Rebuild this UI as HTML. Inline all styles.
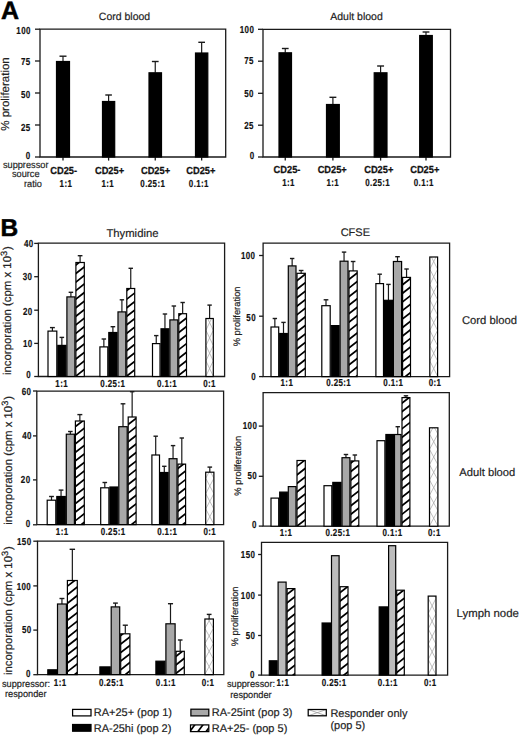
<!DOCTYPE html>
<html><head><meta charset="utf-8"><title>Figure</title>
<style>
html,body{margin:0;padding:0;background:#fff;}
body{width:520px;height:736px;overflow:hidden;}
svg{display:block;font-family:"Liberation Sans",sans-serif;text-rendering:geometricPrecision;}
</style></head>
<body>
<svg width="520" height="736" viewBox="0 0 520 736">
<rect width="520" height="736" fill="#fff"/>

<text x="0.90" y="18.80" font-size="25" text-anchor="start" font-weight="bold" fill="#000" stroke="#000" stroke-width="0.5">A</text>
<text x="124.50" y="19.60" font-size="10.5" text-anchor="middle" fill="#222" stroke="#222" stroke-width="0.18">Cord blood</text>
<text x="356.50" y="19.90" font-size="10.5" text-anchor="middle" fill="#222" stroke="#222" stroke-width="0.18">Adult blood</text>
<path d="M40.00,157.00 L40.00,29.20 L225.70,29.20 L225.70,157.00 Z" fill="none" stroke="#1a1a1a" stroke-width="1.3"/>
<line x1="35.00" y1="29.20" x2="40.00" y2="29.20" stroke="#1a1a1a" stroke-width="1.3"/>
<text x="0" y="0" transform="translate(30.79,34.40) scale(0.78,1)" font-size="10.2" text-anchor="end" font-weight="bold" fill="#111" stroke="#111" stroke-width="0.2" letter-spacing="0.5">100</text>
<line x1="35.00" y1="61.00" x2="40.00" y2="61.00" stroke="#1a1a1a" stroke-width="1.3"/>
<text x="0" y="0" transform="translate(30.59,65.40) scale(0.78,1)" font-size="10.2" text-anchor="end" font-weight="bold" fill="#111" stroke="#111" stroke-width="0.2" letter-spacing="0.5">75</text>
<line x1="35.00" y1="93.00" x2="40.00" y2="93.00" stroke="#1a1a1a" stroke-width="1.3"/>
<text x="0" y="0" transform="translate(30.59,97.90) scale(0.78,1)" font-size="10.2" text-anchor="end" font-weight="bold" fill="#111" stroke="#111" stroke-width="0.2" letter-spacing="0.5">50</text>
<line x1="35.00" y1="125.00" x2="40.00" y2="125.00" stroke="#1a1a1a" stroke-width="1.3"/>
<text x="0" y="0" transform="translate(30.59,130.50) scale(0.78,1)" font-size="10.2" text-anchor="end" font-weight="bold" fill="#111" stroke="#111" stroke-width="0.2" letter-spacing="0.5">25</text>
<line x1="35.00" y1="157.00" x2="40.00" y2="157.00" stroke="#1a1a1a" stroke-width="1.3"/>
<text x="0" y="0" transform="translate(30.59,159.10) scale(0.78,1)" font-size="10.2" text-anchor="end" font-weight="bold" fill="#111" stroke="#111" stroke-width="0.2" letter-spacing="0.5">0</text>
<line x1="63.00" y1="157.00" x2="63.00" y2="160.60" stroke="#1a1a1a" stroke-width="1.3"/>
<line x1="108.60" y1="157.00" x2="108.60" y2="160.60" stroke="#1a1a1a" stroke-width="1.3"/>
<line x1="155.25" y1="157.00" x2="155.25" y2="160.60" stroke="#1a1a1a" stroke-width="1.3"/>
<line x1="201.65" y1="157.00" x2="201.65" y2="160.60" stroke="#1a1a1a" stroke-width="1.3"/>
<line x1="63.00" y1="56.20" x2="63.00" y2="61.50" stroke="#1a1a1a" stroke-width="1.2"/>
<line x1="59.50" y1="56.20" x2="66.50" y2="56.20" stroke="#1a1a1a" stroke-width="1.4"/>
<rect x="56.50" y="61.50" width="13.00" height="95.50" fill="#000"/>
<rect x="56.50" y="61.50" width="13.00" height="95.50" fill="none" stroke="#000" stroke-width="1.2"/>
<line x1="108.60" y1="95.00" x2="108.60" y2="101.50" stroke="#1a1a1a" stroke-width="1.2"/>
<line x1="105.30" y1="95.00" x2="111.90" y2="95.00" stroke="#1a1a1a" stroke-width="1.4"/>
<rect x="102.50" y="101.50" width="12.20" height="55.50" fill="#000"/>
<rect x="102.50" y="101.50" width="12.20" height="55.50" fill="none" stroke="#000" stroke-width="1.2"/>
<line x1="155.25" y1="61.50" x2="155.25" y2="72.80" stroke="#1a1a1a" stroke-width="1.2"/>
<line x1="151.88" y1="61.50" x2="158.62" y2="61.50" stroke="#1a1a1a" stroke-width="1.4"/>
<rect x="149.00" y="72.80" width="12.50" height="84.20" fill="#000"/>
<rect x="149.00" y="72.80" width="12.50" height="84.20" fill="none" stroke="#000" stroke-width="1.2"/>
<line x1="201.65" y1="42.30" x2="201.65" y2="53.00" stroke="#1a1a1a" stroke-width="1.2"/>
<line x1="198.32" y1="42.30" x2="204.98" y2="42.30" stroke="#1a1a1a" stroke-width="1.4"/>
<rect x="195.50" y="53.00" width="12.30" height="104.00" fill="#000"/>
<rect x="195.50" y="53.00" width="12.30" height="104.00" fill="none" stroke="#000" stroke-width="1.2"/>
<text x="0" y="0" font-size="11.5" text-anchor="middle" fill="#222" stroke="#222" stroke-width="0.18" transform="translate(5.60,94.00) rotate(-90)" dominant-baseline="central">% proliferation</text>
<path d="M263.00,157.00 L263.00,29.30 L450.50,29.30 L450.50,157.00 Z" fill="none" stroke="#1a1a1a" stroke-width="1.3"/>
<line x1="258.00" y1="29.30" x2="263.00" y2="29.30" stroke="#1a1a1a" stroke-width="1.3"/>
<text x="0" y="0" transform="translate(254.19,32.60) scale(0.78,1)" font-size="10.2" text-anchor="end" font-weight="bold" fill="#111" stroke="#111" stroke-width="0.2" letter-spacing="0.5">100</text>
<line x1="258.00" y1="61.20" x2="263.00" y2="61.20" stroke="#1a1a1a" stroke-width="1.3"/>
<text x="0" y="0" transform="translate(253.89,63.70) scale(0.78,1)" font-size="10.2" text-anchor="end" font-weight="bold" fill="#111" stroke="#111" stroke-width="0.2" letter-spacing="0.5">75</text>
<line x1="258.00" y1="93.30" x2="263.00" y2="93.30" stroke="#1a1a1a" stroke-width="1.3"/>
<text x="0" y="0" transform="translate(253.89,96.50) scale(0.78,1)" font-size="10.2" text-anchor="end" font-weight="bold" fill="#111" stroke="#111" stroke-width="0.2" letter-spacing="0.5">50</text>
<line x1="258.00" y1="125.20" x2="263.00" y2="125.20" stroke="#1a1a1a" stroke-width="1.3"/>
<text x="0" y="0" transform="translate(253.89,128.80) scale(0.78,1)" font-size="10.2" text-anchor="end" font-weight="bold" fill="#111" stroke="#111" stroke-width="0.2" letter-spacing="0.5">25</text>
<line x1="258.00" y1="157.00" x2="263.00" y2="157.00" stroke="#1a1a1a" stroke-width="1.3"/>
<text x="0" y="0" transform="translate(254.49,159.10) scale(0.78,1)" font-size="10.2" text-anchor="end" font-weight="bold" fill="#111" stroke="#111" stroke-width="0.2" letter-spacing="0.5">0</text>
<line x1="285.25" y1="157.00" x2="285.25" y2="160.60" stroke="#1a1a1a" stroke-width="1.3"/>
<line x1="332.90" y1="157.00" x2="332.90" y2="160.60" stroke="#1a1a1a" stroke-width="1.3"/>
<line x1="380.60" y1="157.00" x2="380.60" y2="160.60" stroke="#1a1a1a" stroke-width="1.3"/>
<line x1="426.00" y1="157.00" x2="426.00" y2="160.60" stroke="#1a1a1a" stroke-width="1.3"/>
<line x1="285.25" y1="48.50" x2="285.25" y2="52.80" stroke="#1a1a1a" stroke-width="1.2"/>
<line x1="281.88" y1="48.50" x2="288.62" y2="48.50" stroke="#1a1a1a" stroke-width="1.4"/>
<rect x="279.00" y="52.80" width="12.50" height="104.20" fill="#000"/>
<rect x="279.00" y="52.80" width="12.50" height="104.20" fill="none" stroke="#000" stroke-width="1.2"/>
<line x1="332.90" y1="97.30" x2="332.90" y2="104.50" stroke="#1a1a1a" stroke-width="1.2"/>
<line x1="329.45" y1="97.30" x2="336.35" y2="97.30" stroke="#1a1a1a" stroke-width="1.4"/>
<rect x="326.50" y="104.50" width="12.80" height="52.50" fill="#000"/>
<rect x="326.50" y="104.50" width="12.80" height="52.50" fill="none" stroke="#000" stroke-width="1.2"/>
<line x1="380.60" y1="66.00" x2="380.60" y2="72.80" stroke="#1a1a1a" stroke-width="1.2"/>
<line x1="377.15" y1="66.00" x2="384.05" y2="66.00" stroke="#1a1a1a" stroke-width="1.4"/>
<rect x="374.20" y="72.80" width="12.80" height="84.20" fill="#000"/>
<rect x="374.20" y="72.80" width="12.80" height="84.20" fill="none" stroke="#000" stroke-width="1.2"/>
<line x1="426.00" y1="32.00" x2="426.00" y2="35.50" stroke="#1a1a1a" stroke-width="1.2"/>
<line x1="422.60" y1="32.00" x2="429.40" y2="32.00" stroke="#1a1a1a" stroke-width="1.4"/>
<rect x="419.70" y="35.50" width="12.60" height="121.50" fill="#000"/>
<rect x="419.70" y="35.50" width="12.60" height="121.50" fill="none" stroke="#000" stroke-width="1.2"/>
<text x="0" y="0" transform="translate(63.70,173.60) scale(0.91,1)" font-size="10.2" text-anchor="middle" font-weight="bold" fill="#111" stroke="#111" stroke-width="0.25">CD25-</text>
<text x="0" y="0" transform="translate(109.50,173.60) scale(0.91,1)" font-size="10.2" text-anchor="middle" font-weight="bold" fill="#111" stroke="#111" stroke-width="0.25">CD25+</text>
<text x="0" y="0" transform="translate(155.50,173.60) scale(0.91,1)" font-size="10.2" text-anchor="middle" font-weight="bold" fill="#111" stroke="#111" stroke-width="0.25">CD25+</text>
<text x="0" y="0" transform="translate(200.80,173.60) scale(0.91,1)" font-size="10.2" text-anchor="middle" font-weight="bold" fill="#111" stroke="#111" stroke-width="0.25">CD25+</text>
<text x="0" y="0" transform="translate(287.00,173.00) scale(0.91,1)" font-size="10.2" text-anchor="middle" font-weight="bold" fill="#111" stroke="#111" stroke-width="0.25">CD25-</text>
<text x="0" y="0" transform="translate(332.20,173.00) scale(0.91,1)" font-size="10.2" text-anchor="middle" font-weight="bold" fill="#111" stroke="#111" stroke-width="0.25">CD25+</text>
<text x="0" y="0" transform="translate(378.75,173.00) scale(0.91,1)" font-size="10.2" text-anchor="middle" font-weight="bold" fill="#111" stroke="#111" stroke-width="0.25">CD25+</text>
<text x="0" y="0" transform="translate(424.75,173.00) scale(0.91,1)" font-size="10.2" text-anchor="middle" font-weight="bold" fill="#111" stroke="#111" stroke-width="0.25">CD25+</text>
<text x="0" y="0" transform="translate(65.94,186.90) scale(0.78,1)" font-size="10.2" text-anchor="middle" font-weight="bold" fill="#111" stroke="#111" stroke-width="0.2" letter-spacing="0.5">1:1</text>
<text x="0" y="0" transform="translate(107.79,186.90) scale(0.78,1)" font-size="10.2" text-anchor="middle" font-weight="bold" fill="#111" stroke="#111" stroke-width="0.2" letter-spacing="0.5">1:1</text>
<text x="0" y="0" transform="translate(152.79,186.90) scale(0.78,1)" font-size="10.2" text-anchor="middle" font-weight="bold" fill="#111" stroke="#111" stroke-width="0.2" letter-spacing="0.5">0.25:1</text>
<text x="0" y="0" transform="translate(198.89,186.90) scale(0.78,1)" font-size="10.2" text-anchor="middle" font-weight="bold" fill="#111" stroke="#111" stroke-width="0.2" letter-spacing="0.5">0.1:1</text>
<text x="0" y="0" transform="translate(288.59,186.30) scale(0.78,1)" font-size="10.2" text-anchor="middle" font-weight="bold" fill="#111" stroke="#111" stroke-width="0.2" letter-spacing="0.5">1:1</text>
<text x="0" y="0" transform="translate(332.80,186.30) scale(0.78,1)" font-size="10.2" text-anchor="middle" font-weight="bold" fill="#111" stroke="#111" stroke-width="0.2" letter-spacing="0.5">1:1</text>
<text x="0" y="0" transform="translate(377.69,186.30) scale(0.78,1)" font-size="10.2" text-anchor="middle" font-weight="bold" fill="#111" stroke="#111" stroke-width="0.2" letter-spacing="0.5">0.25:1</text>
<text x="0" y="0" transform="translate(423.80,186.30) scale(0.78,1)" font-size="10.2" text-anchor="middle" font-weight="bold" fill="#111" stroke="#111" stroke-width="0.2" letter-spacing="0.5">0.1:1</text>
<text x="0" y="0" transform="translate(2.90,167.70) scale(0.94,1)" font-size="9.8" text-anchor="start" fill="#222" stroke="#222" stroke-width="0.18">suppressor</text>
<text x="0" y="0" transform="translate(11.90,176.60) scale(0.94,1)" font-size="9.8" text-anchor="start" fill="#222" stroke="#222" stroke-width="0.18">source</text>
<text x="0" y="0" transform="translate(24.00,187.40) scale(0.94,1)" font-size="9.8" text-anchor="start" fill="#222" stroke="#222" stroke-width="0.18">ratio</text>
<text x="0.40" y="235.90" font-size="24.5" text-anchor="start" font-weight="bold" fill="#000" stroke="#000" stroke-width="0.5">B</text>
<text x="132.45" y="236.50" font-size="11.3" text-anchor="middle" fill="#222" stroke="#222" stroke-width="0.18">Thymidine</text>
<text x="355.30" y="235.80" font-size="11" text-anchor="middle" fill="#222" stroke="#222" stroke-width="0.18">CFSE</text>
<path d="M38.40,376.50 L38.40,243.20 L224.60,243.20 L224.60,376.50 Z" fill="none" stroke="#1a1a1a" stroke-width="1.3"/>
<line x1="34.20" y1="243.40" x2="38.40" y2="243.40" stroke="#1a1a1a" stroke-width="1.3"/>
<text x="0" y="0" transform="translate(33.59,247.30) scale(0.78,1)" font-size="10.2" text-anchor="end" font-weight="bold" fill="#111" stroke="#111" stroke-width="0.2" letter-spacing="0.5">40</text>
<line x1="34.20" y1="276.70" x2="38.40" y2="276.70" stroke="#1a1a1a" stroke-width="1.3"/>
<text x="0" y="0" transform="translate(32.29,279.60) scale(0.78,1)" font-size="10.2" text-anchor="end" font-weight="bold" fill="#111" stroke="#111" stroke-width="0.2" letter-spacing="0.5">30</text>
<line x1="34.20" y1="310.20" x2="38.40" y2="310.20" stroke="#1a1a1a" stroke-width="1.3"/>
<text x="0" y="0" transform="translate(32.69,314.50) scale(0.78,1)" font-size="10.2" text-anchor="end" font-weight="bold" fill="#111" stroke="#111" stroke-width="0.2" letter-spacing="0.5">20</text>
<line x1="34.20" y1="343.40" x2="38.40" y2="343.40" stroke="#1a1a1a" stroke-width="1.3"/>
<text x="0" y="0" transform="translate(32.69,347.10) scale(0.78,1)" font-size="10.2" text-anchor="end" font-weight="bold" fill="#111" stroke="#111" stroke-width="0.2" letter-spacing="0.5">10</text>
<line x1="34.20" y1="376.50" x2="38.40" y2="376.50" stroke="#1a1a1a" stroke-width="1.3"/>
<text x="0" y="0" transform="translate(31.09,378.10) scale(0.78,1)" font-size="10.2" text-anchor="end" font-weight="bold" fill="#111" stroke="#111" stroke-width="0.2" letter-spacing="0.5">0</text>
<line x1="52.40" y1="327.60" x2="52.40" y2="331.10" stroke="#1a1a1a" stroke-width="1.2"/>
<line x1="49.95" y1="327.60" x2="54.85" y2="327.60" stroke="#1a1a1a" stroke-width="1.4"/>
<rect x="48.00" y="331.10" width="8.80" height="45.40" fill="#fff"/>
<rect x="48.00" y="331.10" width="8.80" height="45.40" fill="none" stroke="#000" stroke-width="1.2"/>
<line x1="61.85" y1="337.40" x2="61.85" y2="345.40" stroke="#1a1a1a" stroke-width="1.2"/>
<line x1="59.58" y1="337.40" x2="64.12" y2="337.40" stroke="#1a1a1a" stroke-width="1.4"/>
<rect x="57.80" y="345.40" width="8.10" height="31.10" fill="#000"/>
<rect x="57.80" y="345.40" width="8.10" height="31.10" fill="none" stroke="#000" stroke-width="1.2"/>
<line x1="70.90" y1="292.30" x2="70.90" y2="296.90" stroke="#1a1a1a" stroke-width="1.2"/>
<line x1="68.65" y1="292.30" x2="73.15" y2="292.30" stroke="#1a1a1a" stroke-width="1.4"/>
<rect x="66.90" y="296.90" width="8.00" height="79.60" fill="#a8a8a8"/>
<rect x="66.90" y="296.90" width="8.00" height="79.60" fill="none" stroke="#000" stroke-width="1.2"/>
<line x1="80.10" y1="255.70" x2="80.10" y2="262.50" stroke="#1a1a1a" stroke-width="1.2"/>
<line x1="77.75" y1="255.70" x2="82.45" y2="255.70" stroke="#1a1a1a" stroke-width="1.4"/>
<rect x="75.90" y="262.50" width="8.40" height="114.00" fill="#fff"/>
<clipPath id="c1"><rect x="75.90" y="262.50" width="8.40" height="114.00"/></clipPath>
<path d="M74.90,393.98 L85.30,385.86 M74.90,385.43 L85.30,377.31 M74.90,376.88 L85.30,368.76 M74.90,368.33 L85.30,360.21 M74.90,359.78 L85.30,351.66 M74.90,351.23 L85.30,343.11 M74.90,342.68 L85.30,334.56 M74.90,334.13 L85.30,326.01 M74.90,325.58 L85.30,317.46 M74.90,317.03 L85.30,308.91 M74.90,308.48 L85.30,300.36 M74.90,299.93 L85.30,291.81 M74.90,291.38 L85.30,283.26 M74.90,282.83 L85.30,274.71 M74.90,274.28 L85.30,266.16 M74.90,265.73 L85.30,257.61 M74.90,257.18 L85.30,249.06" stroke="#000" stroke-width="1.75" fill="none" clip-path="url(#c1)"/>
<rect x="75.90" y="262.50" width="8.40" height="114.00" fill="none" stroke="#000" stroke-width="1.2"/>
<line x1="103.85" y1="339.00" x2="103.85" y2="346.90" stroke="#1a1a1a" stroke-width="1.2"/>
<line x1="101.62" y1="339.00" x2="106.07" y2="339.00" stroke="#1a1a1a" stroke-width="1.4"/>
<rect x="99.90" y="346.90" width="7.90" height="29.60" fill="#fff"/>
<rect x="99.90" y="346.90" width="7.90" height="29.60" fill="none" stroke="#000" stroke-width="1.2"/>
<line x1="112.90" y1="326.70" x2="112.90" y2="332.50" stroke="#1a1a1a" stroke-width="1.2"/>
<line x1="110.60" y1="326.70" x2="115.20" y2="326.70" stroke="#1a1a1a" stroke-width="1.4"/>
<rect x="108.80" y="332.50" width="8.20" height="44.00" fill="#000"/>
<rect x="108.80" y="332.50" width="8.20" height="44.00" fill="none" stroke="#000" stroke-width="1.2"/>
<line x1="121.90" y1="299.80" x2="121.90" y2="311.90" stroke="#1a1a1a" stroke-width="1.2"/>
<line x1="119.70" y1="299.80" x2="124.10" y2="299.80" stroke="#1a1a1a" stroke-width="1.4"/>
<rect x="118.00" y="311.90" width="7.80" height="64.60" fill="#a8a8a8"/>
<rect x="118.00" y="311.90" width="7.80" height="64.60" fill="none" stroke="#000" stroke-width="1.2"/>
<line x1="130.75" y1="268.30" x2="130.75" y2="288.50" stroke="#1a1a1a" stroke-width="1.2"/>
<line x1="128.53" y1="268.30" x2="132.97" y2="268.30" stroke="#1a1a1a" stroke-width="1.4"/>
<rect x="126.80" y="288.50" width="7.90" height="88.00" fill="#fff"/>
<clipPath id="c2"><rect x="126.80" y="288.50" width="7.90" height="88.00"/></clipPath>
<path d="M125.80,393.98 L135.70,386.25 M125.80,385.43 L135.70,377.70 M125.80,376.88 L135.70,369.15 M125.80,368.33 L135.70,360.60 M125.80,359.78 L135.70,352.05 M125.80,351.23 L135.70,343.50 M125.80,342.68 L135.70,334.95 M125.80,334.13 L135.70,326.40 M125.80,325.58 L135.70,317.85 M125.80,317.03 L135.70,309.30 M125.80,308.48 L135.70,300.75 M125.80,299.93 L135.70,292.20 M125.80,291.38 L135.70,283.65 M125.80,282.83 L135.70,275.10" stroke="#000" stroke-width="1.75" fill="none" clip-path="url(#c2)"/>
<rect x="126.80" y="288.50" width="7.90" height="88.00" fill="none" stroke="#000" stroke-width="1.2"/>
<line x1="156.25" y1="335.60" x2="156.25" y2="343.60" stroke="#1a1a1a" stroke-width="1.2"/>
<line x1="154.05" y1="335.60" x2="158.45" y2="335.60" stroke="#1a1a1a" stroke-width="1.4"/>
<rect x="152.50" y="343.60" width="7.50" height="32.90" fill="#fff"/>
<rect x="152.50" y="343.60" width="7.50" height="32.90" fill="none" stroke="#000" stroke-width="1.2"/>
<line x1="164.95" y1="314.00" x2="164.95" y2="328.80" stroke="#1a1a1a" stroke-width="1.2"/>
<line x1="162.72" y1="314.00" x2="167.17" y2="314.00" stroke="#1a1a1a" stroke-width="1.4"/>
<rect x="161.00" y="328.80" width="7.90" height="47.70" fill="#000"/>
<rect x="161.00" y="328.80" width="7.90" height="47.70" fill="none" stroke="#000" stroke-width="1.2"/>
<line x1="173.85" y1="306.00" x2="173.85" y2="319.90" stroke="#1a1a1a" stroke-width="1.2"/>
<line x1="171.63" y1="306.00" x2="176.08" y2="306.00" stroke="#1a1a1a" stroke-width="1.4"/>
<rect x="169.90" y="319.90" width="7.90" height="56.60" fill="#a8a8a8"/>
<rect x="169.90" y="319.90" width="7.90" height="56.60" fill="none" stroke="#000" stroke-width="1.2"/>
<line x1="182.65" y1="302.50" x2="182.65" y2="313.70" stroke="#1a1a1a" stroke-width="1.2"/>
<line x1="180.45" y1="302.50" x2="184.85" y2="302.50" stroke="#1a1a1a" stroke-width="1.4"/>
<rect x="178.80" y="313.70" width="7.70" height="62.80" fill="#fff"/>
<clipPath id="c3"><rect x="178.80" y="313.70" width="7.70" height="62.80"/></clipPath>
<path d="M177.80,393.18 L187.50,385.61 M177.80,384.63 L187.50,377.06 M177.80,376.08 L187.50,368.51 M177.80,367.53 L187.50,359.96 M177.80,358.98 L187.50,351.41 M177.80,350.43 L187.50,342.86 M177.80,341.88 L187.50,334.31 M177.80,333.33 L187.50,325.76 M177.80,324.78 L187.50,317.21 M177.80,316.23 L187.50,308.66 M177.80,307.68 L187.50,300.11" stroke="#000" stroke-width="1.75" fill="none" clip-path="url(#c3)"/>
<rect x="178.80" y="313.70" width="7.70" height="62.80" fill="none" stroke="#000" stroke-width="1.2"/>
<line x1="209.60" y1="305.10" x2="209.60" y2="318.50" stroke="#1a1a1a" stroke-width="1.2"/>
<line x1="207.40" y1="305.10" x2="211.80" y2="305.10" stroke="#1a1a1a" stroke-width="1.4"/>
<rect x="205.90" y="318.50" width="7.40" height="58.00" fill="#fff"/>
<clipPath id="c4"><rect x="205.90" y="318.50" width="7.40" height="58.00"/></clipPath>
<path d="M205.90,376.15 L213.30,391.45 M205.90,391.45 L213.30,376.15 M205.90,360.85 L213.30,376.15 M205.90,376.15 L213.30,360.85 M205.90,345.55 L213.30,360.85 M205.90,360.85 L213.30,345.55 M205.90,330.25 L213.30,345.55 M205.90,345.55 L213.30,330.25 M205.90,314.95 L213.30,330.25 M205.90,330.25 L213.30,314.95 M205.90,299.65 L213.30,314.95 M205.90,314.95 L213.30,299.65" stroke="#a8a8a8" stroke-width="0.75" fill="none" clip-path="url(#c4)"/>
<rect x="205.90" y="318.50" width="7.40" height="58.00" fill="none" stroke="#000" stroke-width="1.2"/>
<text x="0" y="0" transform="translate(61.70,386.60) scale(0.78,1)" font-size="10.2" text-anchor="middle" font-weight="bold" fill="#111" stroke="#111" stroke-width="0.2" letter-spacing="0.5">1:1</text>
<text x="0" y="0" transform="translate(112.79,386.60) scale(0.78,1)" font-size="10.2" text-anchor="middle" font-weight="bold" fill="#111" stroke="#111" stroke-width="0.2" letter-spacing="0.5">0.25:1</text>
<text x="0" y="0" transform="translate(167.09,386.60) scale(0.78,1)" font-size="10.2" text-anchor="middle" font-weight="bold" fill="#111" stroke="#111" stroke-width="0.2" letter-spacing="0.5">0.1:1</text>
<text x="0" y="0" transform="translate(209.59,386.60) scale(0.78,1)" font-size="10.2" text-anchor="middle" font-weight="bold" fill="#111" stroke="#111" stroke-width="0.2" letter-spacing="0.5">0:1</text>
<text x="0" y="0" font-size="11.4" text-anchor="middle" fill="#222" stroke="#222" stroke-width="0.18" transform="translate(7.70,310.60) rotate(-90)" dominant-baseline="central">incorporation (cpm x 10<tspan dy="-3.9" font-size="9.2">3</tspan><tspan dy="3.9" dx="0.9">)</tspan></text>
<path d="M263.10,376.60 L263.10,243.20 L449.60,243.20 L449.60,376.60 Z" fill="none" stroke="#1a1a1a" stroke-width="1.3"/>
<line x1="259.10" y1="255.50" x2="263.10" y2="255.50" stroke="#1a1a1a" stroke-width="1.3"/>
<text x="0" y="0" transform="translate(255.39,258.60) scale(0.78,1)" font-size="10.2" text-anchor="end" font-weight="bold" fill="#111" stroke="#111" stroke-width="0.2" letter-spacing="0.5">100</text>
<line x1="259.10" y1="316.20" x2="263.10" y2="316.20" stroke="#1a1a1a" stroke-width="1.3"/>
<text x="0" y="0" transform="translate(255.99,320.70) scale(0.78,1)" font-size="10.2" text-anchor="end" font-weight="bold" fill="#111" stroke="#111" stroke-width="0.2" letter-spacing="0.5">50</text>
<line x1="259.10" y1="376.60" x2="263.10" y2="376.60" stroke="#1a1a1a" stroke-width="1.3"/>
<text x="0" y="0" transform="translate(255.99,379.50) scale(0.78,1)" font-size="10.2" text-anchor="end" font-weight="bold" fill="#111" stroke="#111" stroke-width="0.2" letter-spacing="0.5">0</text>
<line x1="274.85" y1="318.50" x2="274.85" y2="327.00" stroke="#1a1a1a" stroke-width="1.2"/>
<line x1="272.65" y1="318.50" x2="277.05" y2="318.50" stroke="#1a1a1a" stroke-width="1.4"/>
<rect x="271.00" y="327.00" width="7.70" height="49.60" fill="#fff"/>
<rect x="271.00" y="327.00" width="7.70" height="49.60" fill="none" stroke="#000" stroke-width="1.2"/>
<line x1="283.50" y1="322.40" x2="283.50" y2="333.50" stroke="#1a1a1a" stroke-width="1.2"/>
<line x1="281.30" y1="322.40" x2="285.70" y2="322.40" stroke="#1a1a1a" stroke-width="1.4"/>
<rect x="279.70" y="333.50" width="7.60" height="43.10" fill="#000"/>
<rect x="279.70" y="333.50" width="7.60" height="43.10" fill="none" stroke="#000" stroke-width="1.2"/>
<line x1="292.15" y1="258.50" x2="292.15" y2="265.90" stroke="#1a1a1a" stroke-width="1.2"/>
<line x1="289.95" y1="258.50" x2="294.35" y2="258.50" stroke="#1a1a1a" stroke-width="1.4"/>
<rect x="288.30" y="265.90" width="7.70" height="110.70" fill="#a8a8a8"/>
<rect x="288.30" y="265.90" width="7.70" height="110.70" fill="none" stroke="#000" stroke-width="1.2"/>
<line x1="301.15" y1="270.50" x2="301.15" y2="273.30" stroke="#1a1a1a" stroke-width="1.2"/>
<line x1="298.82" y1="270.50" x2="303.47" y2="270.50" stroke="#1a1a1a" stroke-width="1.4"/>
<rect x="297.00" y="273.30" width="8.30" height="103.30" fill="#fff"/>
<clipPath id="c5"><rect x="297.00" y="273.30" width="8.30" height="103.30"/></clipPath>
<path d="M296.00,401.03 L306.30,392.99 M296.00,392.48 L306.30,384.44 M296.00,383.93 L306.30,375.89 M296.00,375.38 L306.30,367.34 M296.00,366.83 L306.30,358.79 M296.00,358.28 L306.30,350.24 M296.00,349.73 L306.30,341.69 M296.00,341.18 L306.30,333.14 M296.00,332.63 L306.30,324.59 M296.00,324.08 L306.30,316.04 M296.00,315.53 L306.30,307.49 M296.00,306.98 L306.30,298.94 M296.00,298.43 L306.30,290.39 M296.00,289.88 L306.30,281.84 M296.00,281.33 L306.30,273.29 M296.00,272.78 L306.30,264.74" stroke="#000" stroke-width="1.75" fill="none" clip-path="url(#c5)"/>
<rect x="297.00" y="273.30" width="8.30" height="103.30" fill="none" stroke="#000" stroke-width="1.2"/>
<line x1="326.00" y1="299.80" x2="326.00" y2="305.70" stroke="#1a1a1a" stroke-width="1.2"/>
<line x1="323.65" y1="299.80" x2="328.35" y2="299.80" stroke="#1a1a1a" stroke-width="1.4"/>
<rect x="321.80" y="305.70" width="8.40" height="70.90" fill="#fff"/>
<rect x="321.80" y="305.70" width="8.40" height="70.90" fill="none" stroke="#000" stroke-width="1.2"/>
<rect x="331.20" y="325.60" width="7.90" height="51.00" fill="#000"/>
<rect x="331.20" y="325.60" width="7.90" height="51.00" fill="none" stroke="#000" stroke-width="1.2"/>
<line x1="344.05" y1="252.10" x2="344.05" y2="261.20" stroke="#1a1a1a" stroke-width="1.2"/>
<line x1="341.83" y1="252.10" x2="346.27" y2="252.10" stroke="#1a1a1a" stroke-width="1.4"/>
<rect x="340.10" y="261.20" width="7.90" height="115.40" fill="#a8a8a8"/>
<rect x="340.10" y="261.20" width="7.90" height="115.40" fill="none" stroke="#000" stroke-width="1.2"/>
<line x1="353.10" y1="261.50" x2="353.10" y2="270.90" stroke="#1a1a1a" stroke-width="1.2"/>
<line x1="350.80" y1="261.50" x2="355.40" y2="261.50" stroke="#1a1a1a" stroke-width="1.4"/>
<rect x="349.00" y="270.90" width="8.20" height="105.70" fill="#fff"/>
<clipPath id="c6"><rect x="349.00" y="270.90" width="8.20" height="105.70"/></clipPath>
<path d="M348.00,399.93 L358.20,391.96 M348.00,391.38 L358.20,383.41 M348.00,382.83 L358.20,374.86 M348.00,374.28 L358.20,366.31 M348.00,365.73 L358.20,357.76 M348.00,357.18 L358.20,349.21 M348.00,348.63 L358.20,340.66 M348.00,340.08 L358.20,332.11 M348.00,331.53 L358.20,323.56 M348.00,322.98 L358.20,315.01 M348.00,314.43 L358.20,306.46 M348.00,305.88 L358.20,297.91 M348.00,297.33 L358.20,289.36 M348.00,288.78 L358.20,280.81 M348.00,280.23 L358.20,272.26 M348.00,271.68 L358.20,263.71" stroke="#000" stroke-width="1.75" fill="none" clip-path="url(#c6)"/>
<rect x="349.00" y="270.90" width="8.20" height="105.70" fill="none" stroke="#000" stroke-width="1.2"/>
<line x1="379.70" y1="274.20" x2="379.70" y2="283.60" stroke="#1a1a1a" stroke-width="1.2"/>
<line x1="377.50" y1="274.20" x2="381.90" y2="274.20" stroke="#1a1a1a" stroke-width="1.4"/>
<rect x="375.90" y="283.60" width="7.60" height="93.00" fill="#fff"/>
<rect x="375.90" y="283.60" width="7.60" height="93.00" fill="none" stroke="#000" stroke-width="1.2"/>
<line x1="388.45" y1="284.40" x2="388.45" y2="300.30" stroke="#1a1a1a" stroke-width="1.2"/>
<line x1="386.23" y1="284.40" x2="390.67" y2="284.40" stroke="#1a1a1a" stroke-width="1.4"/>
<rect x="384.50" y="300.30" width="7.90" height="76.30" fill="#000"/>
<rect x="384.50" y="300.30" width="7.90" height="76.30" fill="none" stroke="#000" stroke-width="1.2"/>
<line x1="397.50" y1="256.70" x2="397.50" y2="261.50" stroke="#1a1a1a" stroke-width="1.2"/>
<line x1="395.20" y1="256.70" x2="399.80" y2="256.70" stroke="#1a1a1a" stroke-width="1.4"/>
<rect x="393.40" y="261.50" width="8.20" height="115.10" fill="#a8a8a8"/>
<rect x="393.40" y="261.50" width="8.20" height="115.10" fill="none" stroke="#000" stroke-width="1.2"/>
<line x1="406.55" y1="269.00" x2="406.55" y2="277.40" stroke="#1a1a1a" stroke-width="1.2"/>
<line x1="404.33" y1="269.00" x2="408.77" y2="269.00" stroke="#1a1a1a" stroke-width="1.4"/>
<rect x="402.60" y="277.40" width="7.90" height="99.20" fill="#fff"/>
<clipPath id="c7"><rect x="402.60" y="277.40" width="7.90" height="99.20"/></clipPath>
<path d="M401.60,396.63 L411.50,388.90 M401.60,388.08 L411.50,380.35 M401.60,379.53 L411.50,371.80 M401.60,370.98 L411.50,363.25 M401.60,362.43 L411.50,354.70 M401.60,353.88 L411.50,346.15 M401.60,345.33 L411.50,337.60 M401.60,336.78 L411.50,329.05 M401.60,328.23 L411.50,320.50 M401.60,319.68 L411.50,311.95 M401.60,311.13 L411.50,303.40 M401.60,302.58 L411.50,294.85 M401.60,294.03 L411.50,286.30 M401.60,285.48 L411.50,277.75 M401.60,276.93 L411.50,269.20" stroke="#000" stroke-width="1.75" fill="none" clip-path="url(#c7)"/>
<rect x="402.60" y="277.40" width="7.90" height="99.20" fill="none" stroke="#000" stroke-width="1.2"/>
<rect x="429.80" y="257.00" width="7.80" height="119.60" fill="#fff"/>
<clipPath id="c8"><rect x="429.80" y="257.00" width="7.80" height="119.60"/></clipPath>
<path d="M429.80,376.25 L437.60,391.55 M429.80,391.55 L437.60,376.25 M429.80,360.95 L437.60,376.25 M429.80,376.25 L437.60,360.95 M429.80,345.65 L437.60,360.95 M429.80,360.95 L437.60,345.65 M429.80,330.35 L437.60,345.65 M429.80,345.65 L437.60,330.35 M429.80,315.05 L437.60,330.35 M429.80,330.35 L437.60,315.05 M429.80,299.75 L437.60,315.05 M429.80,315.05 L437.60,299.75 M429.80,284.45 L437.60,299.75 M429.80,299.75 L437.60,284.45 M429.80,269.15 L437.60,284.45 M429.80,284.45 L437.60,269.15 M429.80,253.85 L437.60,269.15 M429.80,269.15 L437.60,253.85 M429.80,238.55 L437.60,253.85 M429.80,253.85 L437.60,238.55" stroke="#a8a8a8" stroke-width="0.75" fill="none" clip-path="url(#c8)"/>
<rect x="429.80" y="257.00" width="7.80" height="119.60" fill="none" stroke="#000" stroke-width="1.2"/>
<text x="0" y="0" transform="translate(286.89,386.30) scale(0.78,1)" font-size="10.2" text-anchor="middle" font-weight="bold" fill="#111" stroke="#111" stroke-width="0.2" letter-spacing="0.5">1:1</text>
<text x="0" y="0" transform="translate(338.69,386.30) scale(0.78,1)" font-size="10.2" text-anchor="middle" font-weight="bold" fill="#111" stroke="#111" stroke-width="0.2" letter-spacing="0.5">0.25:1</text>
<text x="0" y="0" transform="translate(393.39,386.30) scale(0.78,1)" font-size="10.2" text-anchor="middle" font-weight="bold" fill="#111" stroke="#111" stroke-width="0.2" letter-spacing="0.5">0.1:1</text>
<text x="0" y="0" transform="translate(435.09,386.30) scale(0.78,1)" font-size="10.2" text-anchor="middle" font-weight="bold" fill="#111" stroke="#111" stroke-width="0.2" letter-spacing="0.5">0:1</text>
<text x="0" y="0" font-size="9.4" text-anchor="middle" fill="#222" stroke="#222" stroke-width="0.18" transform="translate(236.30,316.40) rotate(-90)" dominant-baseline="central">% proliferation</text>
<text x="489.40" y="323.70" font-size="11.25" text-anchor="middle" fill="#222" stroke="#222" stroke-width="0.18">Cord blood</text>
<path d="M36.80,524.60 L36.80,391.10 L223.60,391.10 L223.60,524.60 Z" fill="none" stroke="#1a1a1a" stroke-width="1.3"/>
<line x1="33.00" y1="391.00" x2="36.80" y2="391.00" stroke="#1a1a1a" stroke-width="1.3"/>
<text x="0" y="0" transform="translate(31.29,394.50) scale(0.78,1)" font-size="10.2" text-anchor="end" font-weight="bold" fill="#111" stroke="#111" stroke-width="0.2" letter-spacing="0.5">60</text>
<line x1="33.00" y1="435.90" x2="36.80" y2="435.90" stroke="#1a1a1a" stroke-width="1.3"/>
<text x="0" y="0" transform="translate(31.79,438.50) scale(0.78,1)" font-size="10.2" text-anchor="end" font-weight="bold" fill="#111" stroke="#111" stroke-width="0.2" letter-spacing="0.5">40</text>
<line x1="33.00" y1="479.90" x2="36.80" y2="479.90" stroke="#1a1a1a" stroke-width="1.3"/>
<text x="0" y="0" transform="translate(30.49,483.20) scale(0.78,1)" font-size="10.2" text-anchor="end" font-weight="bold" fill="#111" stroke="#111" stroke-width="0.2" letter-spacing="0.5">20</text>
<line x1="33.00" y1="524.80" x2="36.80" y2="524.80" stroke="#1a1a1a" stroke-width="1.3"/>
<text x="0" y="0" transform="translate(30.49,526.70) scale(0.78,1)" font-size="10.2" text-anchor="end" font-weight="bold" fill="#111" stroke="#111" stroke-width="0.2" letter-spacing="0.5">0</text>
<line x1="51.50" y1="496.50" x2="51.50" y2="500.20" stroke="#1a1a1a" stroke-width="1.2"/>
<line x1="49.10" y1="496.50" x2="53.90" y2="496.50" stroke="#1a1a1a" stroke-width="1.4"/>
<rect x="47.20" y="500.20" width="8.60" height="24.40" fill="#fff"/>
<rect x="47.20" y="500.20" width="8.60" height="24.40" fill="none" stroke="#000" stroke-width="1.2"/>
<line x1="61.05" y1="490.10" x2="61.05" y2="496.50" stroke="#1a1a1a" stroke-width="1.2"/>
<line x1="58.67" y1="490.10" x2="63.42" y2="490.10" stroke="#1a1a1a" stroke-width="1.4"/>
<rect x="56.80" y="496.50" width="8.50" height="28.10" fill="#000"/>
<rect x="56.80" y="496.50" width="8.50" height="28.10" fill="none" stroke="#000" stroke-width="1.2"/>
<line x1="70.35" y1="431.50" x2="70.35" y2="434.20" stroke="#1a1a1a" stroke-width="1.2"/>
<line x1="68.07" y1="431.50" x2="72.62" y2="431.50" stroke="#1a1a1a" stroke-width="1.4"/>
<rect x="66.30" y="434.20" width="8.10" height="90.40" fill="#a8a8a8"/>
<rect x="66.30" y="434.20" width="8.10" height="90.40" fill="none" stroke="#000" stroke-width="1.2"/>
<line x1="79.85" y1="414.60" x2="79.85" y2="421.00" stroke="#1a1a1a" stroke-width="1.2"/>
<line x1="77.38" y1="414.60" x2="82.32" y2="414.60" stroke="#1a1a1a" stroke-width="1.4"/>
<rect x="75.40" y="421.00" width="8.90" height="103.60" fill="#fff"/>
<clipPath id="c9"><rect x="75.40" y="421.00" width="8.90" height="103.60"/></clipPath>
<path d="M74.40,547.13 L85.30,538.62 M74.40,538.58 L85.30,530.07 M74.40,530.03 L85.30,521.52 M74.40,521.48 L85.30,512.97 M74.40,512.93 L85.30,504.42 M74.40,504.38 L85.30,495.87 M74.40,495.83 L85.30,487.32 M74.40,487.28 L85.30,478.77 M74.40,478.73 L85.30,470.22 M74.40,470.18 L85.30,461.67 M74.40,461.63 L85.30,453.12 M74.40,453.08 L85.30,444.57 M74.40,444.53 L85.30,436.02 M74.40,435.98 L85.30,427.47 M74.40,427.43 L85.30,418.92 M74.40,418.88 L85.30,410.37" stroke="#000" stroke-width="1.75" fill="none" clip-path="url(#c9)"/>
<rect x="75.40" y="421.00" width="8.90" height="103.60" fill="none" stroke="#000" stroke-width="1.2"/>
<line x1="104.80" y1="482.50" x2="104.80" y2="487.80" stroke="#1a1a1a" stroke-width="1.2"/>
<line x1="102.50" y1="482.50" x2="107.10" y2="482.50" stroke="#1a1a1a" stroke-width="1.4"/>
<rect x="100.70" y="487.80" width="8.20" height="36.80" fill="#fff"/>
<rect x="100.70" y="487.80" width="8.20" height="36.80" fill="none" stroke="#000" stroke-width="1.2"/>
<rect x="109.90" y="487.00" width="7.90" height="37.60" fill="#000"/>
<rect x="109.90" y="487.00" width="7.90" height="37.60" fill="none" stroke="#000" stroke-width="1.2"/>
<line x1="123.00" y1="403.80" x2="123.00" y2="426.70" stroke="#1a1a1a" stroke-width="1.2"/>
<line x1="120.65" y1="403.80" x2="125.35" y2="403.80" stroke="#1a1a1a" stroke-width="1.4"/>
<rect x="118.80" y="426.70" width="8.40" height="97.90" fill="#a8a8a8"/>
<rect x="118.80" y="426.70" width="8.40" height="97.90" fill="none" stroke="#000" stroke-width="1.2"/>
<line x1="132.15" y1="391.70" x2="132.15" y2="417.00" stroke="#1a1a1a" stroke-width="1.2"/>
<line x1="129.92" y1="391.70" x2="134.37" y2="391.70" stroke="#1a1a1a" stroke-width="1.4"/>
<rect x="128.20" y="417.00" width="7.90" height="107.60" fill="#fff"/>
<clipPath id="c10"><rect x="128.20" y="417.00" width="7.90" height="107.60"/></clipPath>
<path d="M127.20,545.03 L137.10,537.30 M127.20,536.48 L137.10,528.75 M127.20,527.93 L137.10,520.20 M127.20,519.38 L137.10,511.65 M127.20,510.83 L137.10,503.10 M127.20,502.28 L137.10,494.55 M127.20,493.73 L137.10,486.00 M127.20,485.18 L137.10,477.45 M127.20,476.63 L137.10,468.90 M127.20,468.08 L137.10,460.35 M127.20,459.53 L137.10,451.80 M127.20,450.98 L137.10,443.25 M127.20,442.43 L137.10,434.70 M127.20,433.88 L137.10,426.15 M127.20,425.33 L137.10,417.60 M127.20,416.78 L137.10,409.05" stroke="#000" stroke-width="1.75" fill="none" clip-path="url(#c10)"/>
<rect x="128.20" y="417.00" width="7.90" height="107.60" fill="none" stroke="#000" stroke-width="1.2"/>
<line x1="155.70" y1="436.20" x2="155.70" y2="455.00" stroke="#1a1a1a" stroke-width="1.2"/>
<line x1="153.50" y1="436.20" x2="157.90" y2="436.20" stroke="#1a1a1a" stroke-width="1.4"/>
<rect x="151.90" y="455.00" width="7.60" height="69.60" fill="#fff"/>
<rect x="151.90" y="455.00" width="7.60" height="69.60" fill="none" stroke="#000" stroke-width="1.2"/>
<line x1="164.30" y1="466.30" x2="164.30" y2="472.50" stroke="#1a1a1a" stroke-width="1.2"/>
<line x1="162.10" y1="466.30" x2="166.50" y2="466.30" stroke="#1a1a1a" stroke-width="1.4"/>
<rect x="160.50" y="472.50" width="7.60" height="52.10" fill="#000"/>
<rect x="160.50" y="472.50" width="7.60" height="52.10" fill="none" stroke="#000" stroke-width="1.2"/>
<line x1="173.05" y1="445.60" x2="173.05" y2="458.70" stroke="#1a1a1a" stroke-width="1.2"/>
<line x1="170.83" y1="445.60" x2="175.28" y2="445.60" stroke="#1a1a1a" stroke-width="1.4"/>
<rect x="169.10" y="458.70" width="7.90" height="65.90" fill="#a8a8a8"/>
<rect x="169.10" y="458.70" width="7.90" height="65.90" fill="none" stroke="#000" stroke-width="1.2"/>
<line x1="181.80" y1="438.00" x2="181.80" y2="464.10" stroke="#1a1a1a" stroke-width="1.2"/>
<line x1="179.60" y1="438.00" x2="184.00" y2="438.00" stroke="#1a1a1a" stroke-width="1.4"/>
<rect x="178.00" y="464.10" width="7.60" height="60.50" fill="#fff"/>
<clipPath id="c11"><rect x="178.00" y="464.10" width="7.60" height="60.50"/></clipPath>
<path d="M177.00,546.13 L186.60,538.63 M177.00,537.58 L186.60,530.08 M177.00,529.03 L186.60,521.53 M177.00,520.48 L186.60,512.98 M177.00,511.93 L186.60,504.43 M177.00,503.38 L186.60,495.88 M177.00,494.83 L186.60,487.33 M177.00,486.28 L186.60,478.78 M177.00,477.73 L186.60,470.23 M177.00,469.18 L186.60,461.68 M177.00,460.63 L186.60,453.13" stroke="#000" stroke-width="1.75" fill="none" clip-path="url(#c11)"/>
<rect x="178.00" y="464.10" width="7.60" height="60.50" fill="none" stroke="#000" stroke-width="1.2"/>
<line x1="209.80" y1="467.10" x2="209.80" y2="472.20" stroke="#1a1a1a" stroke-width="1.2"/>
<line x1="207.50" y1="467.10" x2="212.10" y2="467.10" stroke="#1a1a1a" stroke-width="1.4"/>
<rect x="205.70" y="472.20" width="8.20" height="52.40" fill="#fff"/>
<clipPath id="c12"><rect x="205.70" y="472.20" width="8.20" height="52.40"/></clipPath>
<path d="M205.70,524.25 L213.90,539.55 M205.70,539.55 L213.90,524.25 M205.70,508.95 L213.90,524.25 M205.70,524.25 L213.90,508.95 M205.70,493.65 L213.90,508.95 M205.70,508.95 L213.90,493.65 M205.70,478.35 L213.90,493.65 M205.70,493.65 L213.90,478.35 M205.70,463.05 L213.90,478.35 M205.70,478.35 L213.90,463.05" stroke="#a8a8a8" stroke-width="0.75" fill="none" clip-path="url(#c12)"/>
<rect x="205.70" y="472.20" width="8.20" height="52.40" fill="none" stroke="#000" stroke-width="1.2"/>
<text x="0" y="0" transform="translate(62.20,534.80) scale(0.78,1)" font-size="10.2" text-anchor="middle" font-weight="bold" fill="#111" stroke="#111" stroke-width="0.2" letter-spacing="0.5">1:1</text>
<text x="0" y="0" transform="translate(113.09,534.80) scale(0.78,1)" font-size="10.2" text-anchor="middle" font-weight="bold" fill="#111" stroke="#111" stroke-width="0.2" letter-spacing="0.5">0.25:1</text>
<text x="0" y="0" transform="translate(167.19,534.80) scale(0.78,1)" font-size="10.2" text-anchor="middle" font-weight="bold" fill="#111" stroke="#111" stroke-width="0.2" letter-spacing="0.5">0.1:1</text>
<text x="0" y="0" transform="translate(209.79,534.80) scale(0.78,1)" font-size="10.2" text-anchor="middle" font-weight="bold" fill="#111" stroke="#111" stroke-width="0.2" letter-spacing="0.5">0:1</text>
<text x="0" y="0" font-size="11.4" text-anchor="middle" fill="#222" stroke="#222" stroke-width="0.18" transform="translate(8.50,460.40) rotate(-90)" dominant-baseline="central">incorporation (cpm x 10<tspan dy="-3.9" font-size="9.2">3</tspan><tspan dy="3.9" dx="0.9">)</tspan></text>
<path d="M263.10,526.20 L263.10,392.60 L449.30,392.60 L449.30,526.20 Z" fill="none" stroke="#1a1a1a" stroke-width="1.3"/>
<line x1="258.80" y1="426.10" x2="263.10" y2="426.10" stroke="#1a1a1a" stroke-width="1.3"/>
<text x="0" y="0" transform="translate(257.19,428.90) scale(0.78,1)" font-size="10.2" text-anchor="end" font-weight="bold" fill="#111" stroke="#111" stroke-width="0.2" letter-spacing="0.5">100</text>
<line x1="258.80" y1="476.30" x2="263.10" y2="476.30" stroke="#1a1a1a" stroke-width="1.3"/>
<text x="0" y="0" transform="translate(257.09,479.30) scale(0.78,1)" font-size="10.2" text-anchor="end" font-weight="bold" fill="#111" stroke="#111" stroke-width="0.2" letter-spacing="0.5">50</text>
<line x1="258.80" y1="526.10" x2="263.10" y2="526.10" stroke="#1a1a1a" stroke-width="1.3"/>
<text x="0" y="0" transform="translate(256.69,528.00) scale(0.78,1)" font-size="10.2" text-anchor="end" font-weight="bold" fill="#111" stroke="#111" stroke-width="0.2" letter-spacing="0.5">0</text>
<rect x="271.00" y="498.10" width="7.70" height="28.10" fill="#fff"/>
<rect x="271.00" y="498.10" width="7.70" height="28.10" fill="none" stroke="#000" stroke-width="1.2"/>
<rect x="279.70" y="492.10" width="7.60" height="34.10" fill="#000"/>
<rect x="279.70" y="492.10" width="7.60" height="34.10" fill="none" stroke="#000" stroke-width="1.2"/>
<rect x="288.30" y="486.60" width="7.70" height="39.60" fill="#a8a8a8"/>
<rect x="288.30" y="486.60" width="7.70" height="39.60" fill="none" stroke="#000" stroke-width="1.2"/>
<rect x="297.00" y="460.50" width="8.30" height="65.70" fill="#fff"/>
<clipPath id="c13"><rect x="297.00" y="460.50" width="8.30" height="65.70"/></clipPath>
<path d="M296.00,543.98 L306.30,535.94 M296.00,535.43 L306.30,527.39 M296.00,526.88 L306.30,518.84 M296.00,518.33 L306.30,510.29 M296.00,509.78 L306.30,501.74 M296.00,501.23 L306.30,493.19 M296.00,492.68 L306.30,484.64 M296.00,484.13 L306.30,476.09 M296.00,475.58 L306.30,467.54 M296.00,467.03 L306.30,458.99 M296.00,458.48 L306.30,450.44" stroke="#000" stroke-width="1.75" fill="none" clip-path="url(#c13)"/>
<rect x="297.00" y="460.50" width="8.30" height="65.70" fill="none" stroke="#000" stroke-width="1.2"/>
<rect x="324.00" y="485.70" width="7.80" height="40.50" fill="#fff"/>
<rect x="324.00" y="485.70" width="7.80" height="40.50" fill="none" stroke="#000" stroke-width="1.2"/>
<rect x="332.80" y="482.40" width="8.20" height="43.80" fill="#000"/>
<rect x="332.80" y="482.40" width="8.20" height="43.80" fill="none" stroke="#000" stroke-width="1.2"/>
<line x1="345.95" y1="454.50" x2="345.95" y2="457.70" stroke="#1a1a1a" stroke-width="1.2"/>
<line x1="343.73" y1="454.50" x2="348.17" y2="454.50" stroke="#1a1a1a" stroke-width="1.4"/>
<rect x="342.00" y="457.70" width="7.90" height="68.50" fill="#a8a8a8"/>
<rect x="342.00" y="457.70" width="7.90" height="68.50" fill="none" stroke="#000" stroke-width="1.2"/>
<line x1="354.85" y1="455.00" x2="354.85" y2="460.90" stroke="#1a1a1a" stroke-width="1.2"/>
<line x1="352.62" y1="455.00" x2="357.08" y2="455.00" stroke="#1a1a1a" stroke-width="1.4"/>
<rect x="350.90" y="460.90" width="7.90" height="65.30" fill="#fff"/>
<clipPath id="c14"><rect x="350.90" y="460.90" width="7.90" height="65.30"/></clipPath>
<path d="M349.90,549.23 L359.80,541.50 M349.90,540.68 L359.80,532.95 M349.90,532.13 L359.80,524.40 M349.90,523.58 L359.80,515.85 M349.90,515.03 L359.80,507.30 M349.90,506.48 L359.80,498.75 M349.90,497.93 L359.80,490.20 M349.90,489.38 L359.80,481.65 M349.90,480.83 L359.80,473.10 M349.90,472.28 L359.80,464.55 M349.90,463.73 L359.80,456.00 M349.90,455.18 L359.80,447.45" stroke="#000" stroke-width="1.75" fill="none" clip-path="url(#c14)"/>
<rect x="350.90" y="460.90" width="7.90" height="65.30" fill="none" stroke="#000" stroke-width="1.2"/>
<rect x="377.00" y="440.70" width="7.90" height="85.50" fill="#fff"/>
<rect x="377.00" y="440.70" width="7.90" height="85.50" fill="none" stroke="#000" stroke-width="1.2"/>
<rect x="385.90" y="434.50" width="7.60" height="91.70" fill="#000"/>
<rect x="385.90" y="434.50" width="7.60" height="91.70" fill="none" stroke="#000" stroke-width="1.2"/>
<line x1="397.75" y1="426.70" x2="397.75" y2="434.50" stroke="#1a1a1a" stroke-width="1.2"/>
<line x1="395.55" y1="426.70" x2="399.95" y2="426.70" stroke="#1a1a1a" stroke-width="1.4"/>
<rect x="394.50" y="434.50" width="6.50" height="91.70" fill="#a8a8a8"/>
<rect x="394.50" y="434.50" width="6.50" height="91.70" fill="none" stroke="#000" stroke-width="1.2"/>
<line x1="405.95" y1="395.80" x2="405.95" y2="397.60" stroke="#1a1a1a" stroke-width="1.2"/>
<line x1="403.73" y1="395.80" x2="408.17" y2="395.80" stroke="#1a1a1a" stroke-width="1.4"/>
<rect x="402.00" y="397.60" width="7.90" height="128.60" fill="#fff"/>
<clipPath id="c15"><rect x="402.00" y="397.60" width="7.90" height="128.60"/></clipPath>
<path d="M401.00,549.23 L410.90,541.50 M401.00,540.68 L410.90,532.95 M401.00,532.13 L410.90,524.40 M401.00,523.58 L410.90,515.85 M401.00,515.03 L410.90,507.30 M401.00,506.48 L410.90,498.75 M401.00,497.93 L410.90,490.20 M401.00,489.38 L410.90,481.65 M401.00,480.83 L410.90,473.10 M401.00,472.28 L410.90,464.55 M401.00,463.73 L410.90,456.00 M401.00,455.18 L410.90,447.45 M401.00,446.63 L410.90,438.90 M401.00,438.08 L410.90,430.35 M401.00,429.53 L410.90,421.80 M401.00,420.98 L410.90,413.25 M401.00,412.43 L410.90,404.70 M401.00,403.88 L410.90,396.15 M401.00,395.33 L410.90,387.60" stroke="#000" stroke-width="1.75" fill="none" clip-path="url(#c15)"/>
<rect x="402.00" y="397.60" width="7.90" height="128.60" fill="none" stroke="#000" stroke-width="1.2"/>
<rect x="429.50" y="427.80" width="8.40" height="98.40" fill="#fff"/>
<clipPath id="c16"><rect x="429.50" y="427.80" width="8.40" height="98.40"/></clipPath>
<path d="M429.50,525.85 L437.90,541.15 M429.50,541.15 L437.90,525.85 M429.50,510.55 L437.90,525.85 M429.50,525.85 L437.90,510.55 M429.50,495.25 L437.90,510.55 M429.50,510.55 L437.90,495.25 M429.50,479.95 L437.90,495.25 M429.50,495.25 L437.90,479.95 M429.50,464.65 L437.90,479.95 M429.50,479.95 L437.90,464.65 M429.50,449.35 L437.90,464.65 M429.50,464.65 L437.90,449.35 M429.50,434.05 L437.90,449.35 M429.50,449.35 L437.90,434.05 M429.50,418.75 L437.90,434.05 M429.50,434.05 L437.90,418.75" stroke="#a8a8a8" stroke-width="0.75" fill="none" clip-path="url(#c16)"/>
<rect x="429.50" y="427.80" width="8.40" height="98.40" fill="none" stroke="#000" stroke-width="1.2"/>
<text x="0" y="0" transform="translate(286.00,536.00) scale(0.78,1)" font-size="10.2" text-anchor="middle" font-weight="bold" fill="#111" stroke="#111" stroke-width="0.2" letter-spacing="0.5">1:1</text>
<text x="0" y="0" transform="translate(337.89,536.00) scale(0.78,1)" font-size="10.2" text-anchor="middle" font-weight="bold" fill="#111" stroke="#111" stroke-width="0.2" letter-spacing="0.5">0.25:1</text>
<text x="0" y="0" transform="translate(392.59,536.00) scale(0.78,1)" font-size="10.2" text-anchor="middle" font-weight="bold" fill="#111" stroke="#111" stroke-width="0.2" letter-spacing="0.5">0.1:1</text>
<text x="0" y="0" transform="translate(434.39,536.00) scale(0.78,1)" font-size="10.2" text-anchor="middle" font-weight="bold" fill="#111" stroke="#111" stroke-width="0.2" letter-spacing="0.5">0:1</text>
<text x="0" y="0" font-size="9.4" text-anchor="middle" fill="#222" stroke="#222" stroke-width="0.18" transform="translate(237.20,465.70) rotate(-90)" dominant-baseline="central">% proliferation</text>
<text x="487.30" y="476.30" font-size="11.2" text-anchor="middle" fill="#222" stroke="#222" stroke-width="0.18">Adult blood</text>
<path d="M37.50,674.60 L37.50,541.20 L223.80,541.20 L223.80,674.60 Z" fill="none" stroke="#1a1a1a" stroke-width="1.3"/>
<line x1="33.30" y1="541.20" x2="37.50" y2="541.20" stroke="#1a1a1a" stroke-width="1.3"/>
<text x="0" y="0" transform="translate(31.49,544.60) scale(0.78,1)" font-size="10.2" text-anchor="end" font-weight="bold" fill="#111" stroke="#111" stroke-width="0.2" letter-spacing="0.5">150</text>
<line x1="33.30" y1="585.90" x2="37.50" y2="585.90" stroke="#1a1a1a" stroke-width="1.3"/>
<text x="0" y="0" transform="translate(31.09,589.80) scale(0.78,1)" font-size="10.2" text-anchor="end" font-weight="bold" fill="#111" stroke="#111" stroke-width="0.2" letter-spacing="0.5">100</text>
<line x1="33.30" y1="630.10" x2="37.50" y2="630.10" stroke="#1a1a1a" stroke-width="1.3"/>
<text x="0" y="0" transform="translate(31.59,632.80) scale(0.78,1)" font-size="10.2" text-anchor="end" font-weight="bold" fill="#111" stroke="#111" stroke-width="0.2" letter-spacing="0.5">50</text>
<line x1="33.30" y1="674.70" x2="37.50" y2="674.70" stroke="#1a1a1a" stroke-width="1.3"/>
<text x="0" y="0" transform="translate(30.69,677.20) scale(0.78,1)" font-size="10.2" text-anchor="end" font-weight="bold" fill="#111" stroke="#111" stroke-width="0.2" letter-spacing="0.5">0</text>
<rect x="47.80" y="669.80" width="8.70" height="4.80" fill="#000"/>
<rect x="47.80" y="669.80" width="8.70" height="4.80" fill="none" stroke="#000" stroke-width="1.2"/>
<line x1="61.95" y1="598.50" x2="61.95" y2="604.00" stroke="#1a1a1a" stroke-width="1.2"/>
<line x1="59.48" y1="598.50" x2="64.43" y2="598.50" stroke="#1a1a1a" stroke-width="1.4"/>
<rect x="57.50" y="604.00" width="8.90" height="70.60" fill="#a8a8a8"/>
<rect x="57.50" y="604.00" width="8.90" height="70.60" fill="none" stroke="#000" stroke-width="1.2"/>
<line x1="72.35" y1="549.30" x2="72.35" y2="580.50" stroke="#1a1a1a" stroke-width="1.2"/>
<line x1="69.62" y1="549.30" x2="75.07" y2="549.30" stroke="#1a1a1a" stroke-width="1.4"/>
<rect x="67.40" y="580.50" width="9.90" height="94.10" fill="#fff"/>
<clipPath id="c17"><rect x="67.40" y="580.50" width="9.90" height="94.10"/></clipPath>
<path d="M66.40,698.13 L78.30,688.84 M66.40,689.58 L78.30,680.29 M66.40,681.03 L78.30,671.74 M66.40,672.48 L78.30,663.19 M66.40,663.93 L78.30,654.64 M66.40,655.38 L78.30,646.09 M66.40,646.83 L78.30,637.54 M66.40,638.28 L78.30,628.99 M66.40,629.73 L78.30,620.44 M66.40,621.18 L78.30,611.89 M66.40,612.63 L78.30,603.34 M66.40,604.08 L78.30,594.79 M66.40,595.53 L78.30,586.24 M66.40,586.98 L78.30,577.69 M66.40,578.43 L78.30,569.14" stroke="#000" stroke-width="1.75" fill="none" clip-path="url(#c17)"/>
<rect x="67.40" y="580.50" width="9.90" height="94.10" fill="none" stroke="#000" stroke-width="1.2"/>
<rect x="99.90" y="666.90" width="10.30" height="7.70" fill="#000"/>
<rect x="99.90" y="666.90" width="10.30" height="7.70" fill="none" stroke="#000" stroke-width="1.2"/>
<line x1="115.45" y1="603.10" x2="115.45" y2="606.90" stroke="#1a1a1a" stroke-width="1.2"/>
<line x1="113.08" y1="603.10" x2="117.83" y2="603.10" stroke="#1a1a1a" stroke-width="1.4"/>
<rect x="111.20" y="606.90" width="8.50" height="67.70" fill="#a8a8a8"/>
<rect x="111.20" y="606.90" width="8.50" height="67.70" fill="none" stroke="#000" stroke-width="1.2"/>
<line x1="125.30" y1="625.20" x2="125.30" y2="633.80" stroke="#1a1a1a" stroke-width="1.2"/>
<line x1="122.75" y1="625.20" x2="127.85" y2="625.20" stroke="#1a1a1a" stroke-width="1.4"/>
<rect x="120.70" y="633.80" width="9.20" height="40.80" fill="#fff"/>
<clipPath id="c18"><rect x="120.70" y="633.80" width="9.20" height="40.80"/></clipPath>
<path d="M119.70,696.13 L130.90,687.38 M119.70,687.58 L130.90,678.83 M119.70,679.03 L130.90,670.28 M119.70,670.48 L130.90,661.73 M119.70,661.93 L130.90,653.18 M119.70,653.38 L130.90,644.63 M119.70,644.83 L130.90,636.08 M119.70,636.28 L130.90,627.53 M119.70,627.73 L130.90,618.98" stroke="#000" stroke-width="1.75" fill="none" clip-path="url(#c18)"/>
<rect x="120.70" y="633.80" width="9.20" height="40.80" fill="none" stroke="#000" stroke-width="1.2"/>
<rect x="155.90" y="661.20" width="9.00" height="13.40" fill="#000"/>
<rect x="155.90" y="661.20" width="9.00" height="13.40" fill="none" stroke="#000" stroke-width="1.2"/>
<line x1="170.50" y1="603.70" x2="170.50" y2="623.80" stroke="#1a1a1a" stroke-width="1.2"/>
<line x1="167.95" y1="603.70" x2="173.05" y2="603.70" stroke="#1a1a1a" stroke-width="1.4"/>
<rect x="165.90" y="623.80" width="9.20" height="50.80" fill="#a8a8a8"/>
<rect x="165.90" y="623.80" width="9.20" height="50.80" fill="none" stroke="#000" stroke-width="1.2"/>
<line x1="180.20" y1="640.00" x2="180.20" y2="651.30" stroke="#1a1a1a" stroke-width="1.2"/>
<line x1="177.90" y1="640.00" x2="182.50" y2="640.00" stroke="#1a1a1a" stroke-width="1.4"/>
<rect x="176.10" y="651.30" width="8.20" height="23.30" fill="#fff"/>
<clipPath id="c19"><rect x="176.10" y="651.30" width="8.20" height="23.30"/></clipPath>
<path d="M175.10,691.18 L185.30,683.21 M175.10,682.63 L185.30,674.66 M175.10,674.08 L185.30,666.11 M175.10,665.53 L185.30,657.56 M175.10,656.98 L185.30,649.01 M175.10,648.43 L185.30,640.46" stroke="#000" stroke-width="1.75" fill="none" clip-path="url(#c19)"/>
<rect x="176.10" y="651.30" width="8.20" height="23.30" fill="none" stroke="#000" stroke-width="1.2"/>
<line x1="209.15" y1="614.40" x2="209.15" y2="619.00" stroke="#1a1a1a" stroke-width="1.2"/>
<line x1="206.78" y1="614.40" x2="211.53" y2="614.40" stroke="#1a1a1a" stroke-width="1.4"/>
<rect x="204.90" y="619.00" width="8.50" height="55.60" fill="#fff"/>
<clipPath id="c20"><rect x="204.90" y="619.00" width="8.50" height="55.60"/></clipPath>
<path d="M204.90,674.25 L213.40,689.55 M204.90,689.55 L213.40,674.25 M204.90,658.95 L213.40,674.25 M204.90,674.25 L213.40,658.95 M204.90,643.65 L213.40,658.95 M204.90,658.95 L213.40,643.65 M204.90,628.35 L213.40,643.65 M204.90,643.65 L213.40,628.35 M204.90,613.05 L213.40,628.35 M204.90,628.35 L213.40,613.05 M204.90,597.75 L213.40,613.05 M204.90,613.05 L213.40,597.75" stroke="#a8a8a8" stroke-width="0.75" fill="none" clip-path="url(#c20)"/>
<rect x="204.90" y="619.00" width="8.50" height="55.60" fill="none" stroke="#000" stroke-width="1.2"/>
<text x="0" y="0" transform="translate(60.20,686.30) scale(0.78,1)" font-size="10.2" text-anchor="middle" font-weight="bold" fill="#111" stroke="#111" stroke-width="0.2" letter-spacing="0.5">1:1</text>
<text x="0" y="0" transform="translate(111.39,686.30) scale(0.78,1)" font-size="10.2" text-anchor="middle" font-weight="bold" fill="#111" stroke="#111" stroke-width="0.2" letter-spacing="0.5">0.25:1</text>
<text x="0" y="0" transform="translate(165.89,686.30) scale(0.78,1)" font-size="10.2" text-anchor="middle" font-weight="bold" fill="#111" stroke="#111" stroke-width="0.2" letter-spacing="0.5">0.1:1</text>
<text x="0" y="0" transform="translate(208.00,686.30) scale(0.78,1)" font-size="10.2" text-anchor="middle" font-weight="bold" fill="#111" stroke="#111" stroke-width="0.2" letter-spacing="0.5">0:1</text>
<text x="0" y="0" font-size="11.4" text-anchor="middle" fill="#222" stroke="#222" stroke-width="0.18" transform="translate(9.00,610.60) rotate(-90)" dominant-baseline="central">incorporation (cpm x 10<tspan dy="-3.9" font-size="9.2">3</tspan><tspan dy="3.9" dx="0.9">)</tspan></text>
<path d="M261.50,675.10 L261.50,542.40 L447.60,542.40 L447.60,675.10 Z" fill="none" stroke="#1a1a1a" stroke-width="1.3"/>
<line x1="258.10" y1="554.50" x2="261.50" y2="554.50" stroke="#1a1a1a" stroke-width="1.3"/>
<text x="0" y="0" transform="translate(255.29,557.70) scale(0.78,1)" font-size="10.2" text-anchor="end" font-weight="bold" fill="#111" stroke="#111" stroke-width="0.2" letter-spacing="0.5">150</text>
<line x1="258.10" y1="595.10" x2="261.50" y2="595.10" stroke="#1a1a1a" stroke-width="1.3"/>
<text x="0" y="0" transform="translate(255.29,598.60) scale(0.78,1)" font-size="10.2" text-anchor="end" font-weight="bold" fill="#111" stroke="#111" stroke-width="0.2" letter-spacing="0.5">100</text>
<line x1="258.10" y1="635.50" x2="261.50" y2="635.50" stroke="#1a1a1a" stroke-width="1.3"/>
<text x="0" y="0" transform="translate(255.29,638.80) scale(0.78,1)" font-size="10.2" text-anchor="end" font-weight="bold" fill="#111" stroke="#111" stroke-width="0.2" letter-spacing="0.5">50</text>
<line x1="258.10" y1="675.10" x2="261.50" y2="675.10" stroke="#1a1a1a" stroke-width="1.3"/>
<text x="0" y="0" transform="translate(254.89,678.10) scale(0.78,1)" font-size="10.2" text-anchor="end" font-weight="bold" fill="#111" stroke="#111" stroke-width="0.2" letter-spacing="0.5">0</text>
<rect x="269.30" y="660.80" width="7.80" height="14.30" fill="#000"/>
<rect x="269.30" y="660.80" width="7.80" height="14.30" fill="none" stroke="#000" stroke-width="1.2"/>
<rect x="278.10" y="582.10" width="8.00" height="93.00" fill="#bcbcbc"/>
<rect x="278.10" y="582.10" width="8.00" height="93.00" fill="none" stroke="#000" stroke-width="1.2"/>
<rect x="287.10" y="588.60" width="7.80" height="86.50" fill="#fff"/>
<clipPath id="c21"><rect x="287.10" y="588.60" width="7.80" height="86.50"/></clipPath>
<path d="M286.10,697.73 L295.90,690.08 M286.10,689.18 L295.90,681.53 M286.10,680.63 L295.90,672.98 M286.10,672.08 L295.90,664.43 M286.10,663.53 L295.90,655.88 M286.10,654.98 L295.90,647.33 M286.10,646.43 L295.90,638.78 M286.10,637.88 L295.90,630.23 M286.10,629.33 L295.90,621.68 M286.10,620.78 L295.90,613.13 M286.10,612.23 L295.90,604.58 M286.10,603.68 L295.90,596.03 M286.10,595.13 L295.90,587.48 M286.10,586.58 L295.90,578.93" stroke="#000" stroke-width="1.75" fill="none" clip-path="url(#c21)"/>
<rect x="287.10" y="588.60" width="7.80" height="86.50" fill="none" stroke="#000" stroke-width="1.2"/>
<rect x="322.10" y="623.00" width="8.40" height="52.10" fill="#000"/>
<rect x="322.10" y="623.00" width="8.40" height="52.10" fill="none" stroke="#000" stroke-width="1.2"/>
<rect x="331.50" y="555.70" width="7.60" height="119.40" fill="#bcbcbc"/>
<rect x="331.50" y="555.70" width="7.60" height="119.40" fill="none" stroke="#000" stroke-width="1.2"/>
<rect x="340.10" y="586.70" width="7.90" height="88.40" fill="#fff"/>
<clipPath id="c22"><rect x="340.10" y="586.70" width="7.90" height="88.40"/></clipPath>
<path d="M339.10,695.93 L349.00,688.20 M339.10,687.38 L349.00,679.65 M339.10,678.83 L349.00,671.10 M339.10,670.28 L349.00,662.55 M339.10,661.73 L349.00,654.00 M339.10,653.18 L349.00,645.45 M339.10,644.63 L349.00,636.90 M339.10,636.08 L349.00,628.35 M339.10,627.53 L349.00,619.80 M339.10,618.98 L349.00,611.25 M339.10,610.43 L349.00,602.70 M339.10,601.88 L349.00,594.15 M339.10,593.33 L349.00,585.60 M339.10,584.78 L349.00,577.05" stroke="#000" stroke-width="1.75" fill="none" clip-path="url(#c22)"/>
<rect x="340.10" y="586.70" width="7.90" height="88.40" fill="none" stroke="#000" stroke-width="1.2"/>
<rect x="379.20" y="606.90" width="8.40" height="68.20" fill="#000"/>
<rect x="379.20" y="606.90" width="8.40" height="68.20" fill="none" stroke="#000" stroke-width="1.2"/>
<rect x="388.60" y="545.70" width="7.10" height="129.40" fill="#bcbcbc"/>
<rect x="388.60" y="545.70" width="7.10" height="129.40" fill="none" stroke="#000" stroke-width="1.2"/>
<rect x="396.70" y="590.20" width="7.60" height="84.90" fill="#fff"/>
<clipPath id="c23"><rect x="396.70" y="590.20" width="7.60" height="84.90"/></clipPath>
<path d="M395.70,698.93 L405.30,691.43 M395.70,690.38 L405.30,682.88 M395.70,681.83 L405.30,674.33 M395.70,673.28 L405.30,665.78 M395.70,664.73 L405.30,657.23 M395.70,656.18 L405.30,648.68 M395.70,647.63 L405.30,640.13 M395.70,639.08 L405.30,631.58 M395.70,630.53 L405.30,623.03 M395.70,621.98 L405.30,614.48 M395.70,613.43 L405.30,605.93 M395.70,604.88 L405.30,597.38 M395.70,596.33 L405.30,588.83 M395.70,587.78 L405.30,580.28" stroke="#000" stroke-width="1.75" fill="none" clip-path="url(#c23)"/>
<rect x="396.70" y="590.20" width="7.60" height="84.90" fill="none" stroke="#000" stroke-width="1.2"/>
<rect x="428.20" y="596.10" width="7.80" height="79.00" fill="#fff"/>
<clipPath id="c24"><rect x="428.20" y="596.10" width="7.80" height="79.00"/></clipPath>
<path d="M428.20,674.75 L436.00,690.05 M428.20,690.05 L436.00,674.75 M428.20,659.45 L436.00,674.75 M428.20,674.75 L436.00,659.45 M428.20,644.15 L436.00,659.45 M428.20,659.45 L436.00,644.15 M428.20,628.85 L436.00,644.15 M428.20,644.15 L436.00,628.85 M428.20,613.55 L436.00,628.85 M428.20,628.85 L436.00,613.55 M428.20,598.25 L436.00,613.55 M428.20,613.55 L436.00,598.25 M428.20,582.95 L436.00,598.25 M428.20,598.25 L436.00,582.95" stroke="#a8a8a8" stroke-width="0.75" fill="none" clip-path="url(#c24)"/>
<rect x="428.20" y="596.10" width="7.80" height="79.00" fill="none" stroke="#000" stroke-width="1.2"/>
<text x="0" y="0" transform="translate(282.89,686.30) scale(0.78,1)" font-size="10.2" text-anchor="middle" font-weight="bold" fill="#111" stroke="#111" stroke-width="0.2" letter-spacing="0.5">1:1</text>
<text x="0" y="0" transform="translate(334.19,686.30) scale(0.78,1)" font-size="10.2" text-anchor="middle" font-weight="bold" fill="#111" stroke="#111" stroke-width="0.2" letter-spacing="0.5">0.25:1</text>
<text x="0" y="0" transform="translate(387.80,686.30) scale(0.78,1)" font-size="10.2" text-anchor="middle" font-weight="bold" fill="#111" stroke="#111" stroke-width="0.2" letter-spacing="0.5">0.1:1</text>
<text x="0" y="0" transform="translate(430.30,686.30) scale(0.78,1)" font-size="10.2" text-anchor="middle" font-weight="bold" fill="#111" stroke="#111" stroke-width="0.2" letter-spacing="0.5">0:1</text>
<text x="0" y="0" font-size="9.4" text-anchor="middle" fill="#222" stroke="#222" stroke-width="0.18" transform="translate(234.40,616.40) rotate(-90)" dominant-baseline="central">% proliferation</text>
<text x="487.70" y="616.70" font-size="11.4" text-anchor="middle" fill="#222" stroke="#222" stroke-width="0.18">Lymph node</text>
<text x="0" y="0" transform="translate(2.00,686.50) scale(0.96,1)" font-size="9.6" text-anchor="start" fill="#222" stroke="#222" stroke-width="0.18">suppressor:</text>
<text x="0" y="0" transform="translate(5.00,697.30) scale(0.96,1)" font-size="9.6" text-anchor="start" fill="#222" stroke="#222" stroke-width="0.18">responder</text>
<text x="0" y="0" transform="translate(226.90,687.40) scale(0.96,1)" font-size="9.6" text-anchor="start" fill="#222" stroke="#222" stroke-width="0.18">suppressor:</text>
<text x="0" y="0" transform="translate(230.20,697.50) scale(0.96,1)" font-size="9.6" text-anchor="start" fill="#222" stroke="#222" stroke-width="0.18">responder</text>
<rect x="72.60" y="709.40" width="18.40" height="6.50" fill="#fff"/>
<rect x="72.60" y="709.40" width="18.40" height="6.50" fill="none" stroke="#000" stroke-width="1.25"/>
<rect x="72.60" y="724.50" width="18.40" height="6.70" fill="#000"/>
<rect x="72.60" y="724.50" width="18.40" height="6.70" fill="none" stroke="#000" stroke-width="1.25"/>
<rect x="190.90" y="709.20" width="17.90" height="6.70" fill="#a8a8a8"/>
<rect x="190.90" y="709.20" width="17.90" height="6.70" fill="none" stroke="#000" stroke-width="1.25"/>
<rect x="190.50" y="724.90" width="18.30" height="6.70" fill="#fff"/>
<clipPath id="c25"><rect x="190.50" y="724.90" width="18.30" height="6.70"/></clipPath>
<path d="M189.50,775.95 L209.80,748.54 M189.50,764.95 L209.80,737.54 M189.50,753.95 L209.80,726.54 M189.50,742.95 L209.80,715.54 M189.50,731.95 L209.80,704.54 M189.50,720.95 L209.80,693.54" stroke="#000" stroke-width="1.7" fill="none" clip-path="url(#c25)"/>
<rect x="190.50" y="724.90" width="18.30" height="6.70" fill="none" stroke="#000" stroke-width="1.25"/>
<rect x="308.20" y="709.50" width="18.10" height="6.30" fill="#fff"/>
<clipPath id="c26"><rect x="308.20" y="709.50" width="18.10" height="6.30"/></clipPath>
<path d="M308.2,709.5 L326.3,715.8 M308.2,715.8 L326.3,709.5" stroke="#9a9a9a" stroke-width="0.8" clip-path="url(#c26)"/>
<rect x="308.20" y="709.50" width="18.10" height="6.30" fill="none" stroke="#000" stroke-width="1.25"/>
<text x="93.70" y="716.40" font-size="11" text-anchor="start" fill="#222" stroke="#222" stroke-width="0.18">RA+25+ (pop 1)</text>
<text x="93.70" y="731.60" font-size="11" text-anchor="start" fill="#222" stroke="#222" stroke-width="0.18">RA-25hi (pop 2)</text>
<text x="211.80" y="716.40" font-size="11" text-anchor="start" fill="#222" stroke="#222" stroke-width="0.18">RA-25int (pop 3)</text>
<text x="211.80" y="731.60" font-size="11" text-anchor="start" fill="#222" stroke="#222" stroke-width="0.18">RA+25- (pop 5)</text>
<text x="330.40" y="716.80" font-size="11" text-anchor="start" fill="#222" stroke="#222" stroke-width="0.18">Responder only</text>
<text x="330.40" y="729.40" font-size="11" text-anchor="start" fill="#222" stroke="#222" stroke-width="0.18">(pop 5)</text>
</svg>
</body></html>
